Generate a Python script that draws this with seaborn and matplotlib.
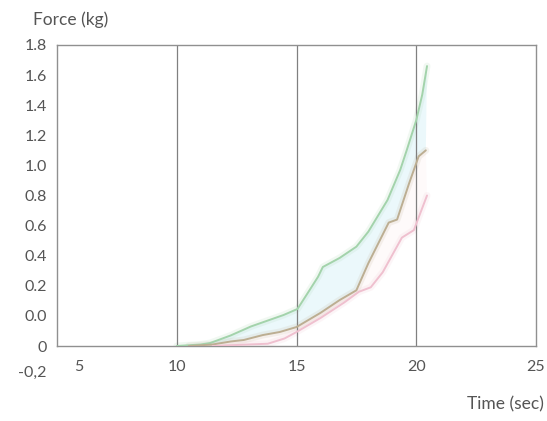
import numpy as np
import pandas as pd
import matplotlib
matplotlib.use("Agg")
import matplotlib.pyplot as plt
import seaborn as sns

# ---- data ----
green_t = [10.0, 11.0, 11.4, 12.25, 13.1, 14.46, 15.04, 15.46, 15.9, 16.1, 16.8, 17.5, 18.0, 18.8, 19.33, 19.6, 20.0, 20.25, 20.45]
green_y = [-0.2, -0.19, -0.18, -0.13, -0.07, 0.006, 0.046, 0.15, 0.26, 0.325, 0.385, 0.46, 0.56, 0.77, 0.97, 1.10, 1.30, 1.47, 1.66]

brown_t = [10.5, 11.5, 12.25, 12.8, 13.6, 14.3, 15.0, 16.0, 16.8, 17.5, 18.0, 18.85, 19.2, 19.7, 20.1, 20.4]
brown_y = [-0.2, -0.19, -0.17, -0.16, -0.127, -0.107, -0.074, 0.02, 0.105, 0.17, 0.35, 0.62, 0.64, 0.88, 1.06, 1.10]

pink_t = [11.5, 13.0, 13.8, 14.5, 15.0, 16.0, 17.0, 17.6, 18.1, 18.6, 19.4, 19.9, 20.45]
pink_y = [-0.2, -0.19, -0.185, -0.15, -0.107, -0.014, 0.09, 0.16, 0.19, 0.29, 0.52, 0.57, 0.80]

y_ticks = [-0.2, 0.0, 0.2, 0.4, 0.6, 0.8, 1.0, 1.2, 1.4, 1.6, 1.8]
y_labels = ["0", "0.0", "0.2", "0.4", "0.6", "0.8", "1.0", "1.2", "1.4", "1.6", "1.8"]
extra_y_label = "-0,2"
x_ticks = [5.92, 10, 15, 20, 25]
x_labels = ["5", "10", "15", "20", "25"]
grid_x = [10, 15, 20]

series_names = ["A", "B", "C"]
colors = {"A": "#a3d3ab", "B": "#bcae92", "C": "#efc0cf"}

df = pd.concat([
    pd.DataFrame({"t": green_t, "f": green_y, "s": "A"}),
    pd.DataFrame({"t": brown_t, "f": brown_y, "s": "B"}),
    pd.DataFrame({"t": pink_t, "f": pink_y, "s": "C"}),
], ignore_index=True)

sns.set_theme(style="white")
plt.rcParams["font.family"] = ["Lato", "DejaVu Sans"]
txt = "#555555"

fig = plt.figure(figsize=(5.47, 4.21), dpi=100)
ax = fig.add_axes([57 / 547, 1 - 346 / 421, (536 - 57) / 547, (346 - 45) / 421])

# soft bands
ax.fill(np.concatenate([green_t, brown_t[::-1]]), np.concatenate([green_y, brown_y[::-1]]),
        color="#e9f8fb", alpha=0.9, lw=0, zorder=1)
ax.fill(np.concatenate([brown_t, pink_t[::-1]]), np.concatenate([brown_y, pink_y[::-1]]),
        color="#fef8f9", alpha=0.7, lw=0, zorder=1)

# halos
for s, t, y in [("A", green_t, green_y), ("B", brown_t, brown_y), ("C", pink_t, pink_y)]:
    ax.plot(t, y, color=colors[s], lw=5, alpha=0.15, zorder=2, solid_capstyle="round")

sns.lineplot(data=df, x="t", y="f", hue="s", palette=colors, hue_order=series_names,
             sort=False, estimator=None, lw=1.4, legend=False, ax=ax, zorder=3)

for gx in grid_x:
    ax.axvline(gx, color="#808080", lw=0.9, zorder=2)

ax.set_xlim(5, 25)
ax.set_ylim(-0.2, 1.8)
ax.set_xticks(x_ticks)
ax.set_xticklabels(x_labels)
ax.set_yticks(y_ticks)
ax.set_yticklabels(y_labels)
ax.tick_params(axis="both", length=0, labelsize=11.5, colors=txt)
ax.tick_params(axis="x", pad=10)
ax.tick_params(axis="y", pad=7)
ax.set_xlabel("")
ax.set_ylabel("")
for sp in ax.spines.values():
    sp.set_color("#909090")
    sp.set_linewidth(1.0)
    sp.set_visible(True)

ax.text(-0.021, -0.38, extra_y_label, ha="right", va="center", fontsize=11.5, color=txt,
        transform=ax.get_yaxis_transform(), clip_on=False)
fig.text(33 / 547, 1 - 20 / 421, "Force (kg)", ha="left", va="center", fontsize=12.5, color=txt)
fig.text(544 / 547, 1 - 404 / 421, "Time (sec)", ha="right", va="center", fontsize=12.5, color=txt)

fig.savefig("out.png", dpi=100)
